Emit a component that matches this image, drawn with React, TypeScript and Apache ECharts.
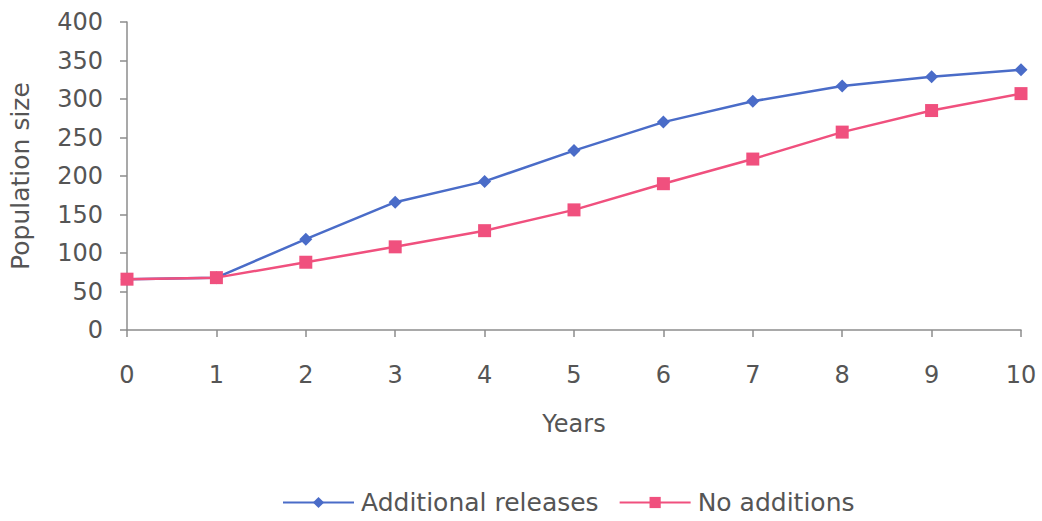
import React, { useEffect, useRef } from "react";
import * as echarts from "echarts";

const years = [0, 1, 2, 3, 4, 5, 6, 7, 8, 9, 10];
const additionalReleases = [66, 68, 118, 166, 193, 233, 270, 297, 317, 329, 338];
const noAdditions = [66, 68, 88, 108, 129, 156, 190, 222, 257, 285, 307];

const BLUE = "#4a6cc8";
const PINK = "#f0507e";
const TEXT = "#555555";
const AXIS = "#8c8c8c";
const FONT = "DejaVu Sans, Liberation Sans, Arial, sans-serif";

export default function App() {
  const ref = useRef<HTMLDivElement>(null);

  useEffect(() => {
    if (!ref.current) return;
    const chart = echarts.init(ref.current, undefined, { renderer: "svg" });
    chart.setOption({
      animation: false,
      backgroundColor: "#ffffff",
      textStyle: { fontFamily: FONT },
      grid: {
        left: 127,
        right: 21,
        top: 22,
        bottom: 191,
        outerBoundsMode: "none",
        containLabel: false,
      },
      xAxis: {
        type: "value",
        min: 0,
        max: 10,
        interval: 1,
        name: "Years",
        nameLocation: "middle",
        nameGap: 82,
        nameTextStyle: { fontSize: 24, color: TEXT, fontFamily: FONT },
        axisLine: { lineStyle: { color: AXIS, width: 1.5 } },
        axisTick: { show: true, length: 7, lineStyle: { color: AXIS, width: 1.5 } },
        axisLabel: { fontSize: 24, color: TEXT, margin: 33, fontFamily: FONT },
        splitLine: { show: false },
      },
      yAxis: {
        type: "value",
        min: 0,
        max: 400,
        interval: 50,
        name: "Population size",
        nameLocation: "middle",
        nameGap: 94,
        nameTextStyle: { fontSize: 25, color: TEXT, fontFamily: FONT },
        axisLine: { show: true, lineStyle: { color: AXIS, width: 1.5 } },
        axisTick: { show: true, length: 7, lineStyle: { color: AXIS, width: 1.5 } },
        axisLabel: { fontSize: 24, color: TEXT, margin: 24, fontFamily: FONT },
        splitLine: { show: false },
      },
      legend: {
        left: 282,
        top: 490,
        padding: 0,
        itemWidth: 71,
        itemHeight: 14,
        itemGap: 20,
        textStyle: { fontSize: 25, color: TEXT, fontFamily: FONT, padding: [0, 0, 0, 2] },
        data: ["Additional releases", "No additions"],
      },
      series: [
        {
          name: "Additional releases",
          type: "line",
          data: years.map((y, i) => [y, additionalReleases[i]]),
          symbol: "diamond",
          symbolSize: 13,
          lineStyle: { color: BLUE, width: 2.5 },
          itemStyle: { color: BLUE },
          z: 2,
        },
        {
          name: "No additions",
          type: "line",
          data: years.map((y, i) => [y, noAdditions[i]]),
          symbol: "rect",
          symbolSize: 13,
          lineStyle: { color: PINK, width: 2.5 },
          itemStyle: { color: PINK },
          z: 3,
        },
      ],
    });
    return () => chart.dispose();
  }, []);

  return (
    <div
      ref={ref}
      style={{ position: "absolute", left: 0, top: 0, width: 1042, height: 521 }}
    />
  );
}
